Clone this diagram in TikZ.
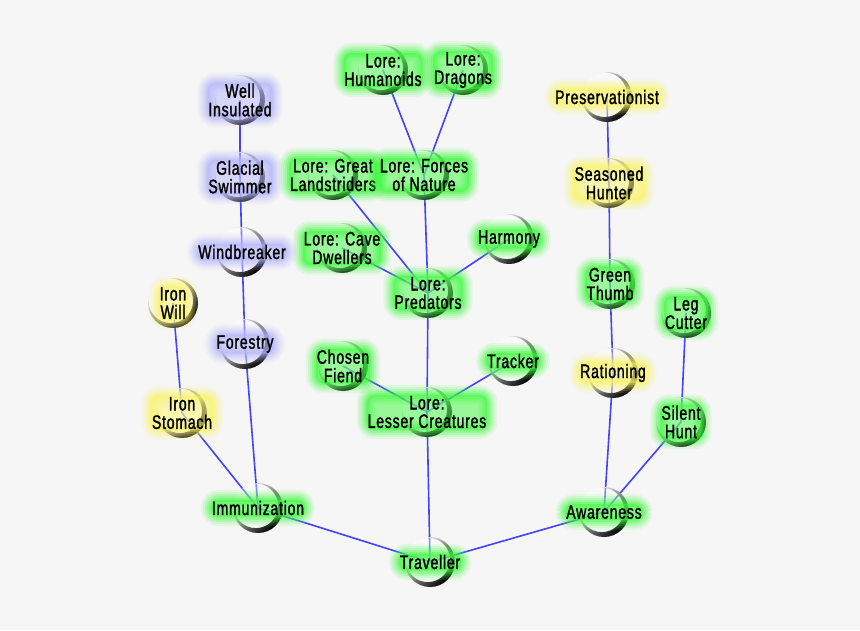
\documentclass[tikz,border=0pt]{standalone}
\usepackage{fontspec}
\setmainfont{Liberation Sans}[FakeStretch=0.72,FakeBold=1.4,LetterSpace=4]
\usepackage{tikz}
\usetikzlibrary{backgrounds}
\definecolor{sk@bg}{RGB}{246,246,246}
\definecolor{sk@edge}{RGB}{66,66,255}
\definecolor{sk@green}{RGB}{60,250,60}
\definecolor{sk@yellow}{RGB}{250,244,100}
\definecolor{sk@blue}{RGB}{180,180,250}

\begin{document}
\begin{tikzpicture}[
  x=1pt,y=1pt,
  ring/.style={circle,minimum size=50pt,inner sep=0pt,fill=white,fill opacity=.35,
    path picture={\shade[even odd rule,fill opacity=1,top color=white,middle color=black!80,
      bottom color=black,shading angle=45]
      (path picture bounding box.center) circle[radius=25pt]
      ([xshift=-2.2pt,yshift=2.2pt]path picture bounding box.center) circle[radius=22.3pt];}},
  skill/.style={font=\fontsize{19.5}{18.5}\selectfont,align=center,inner sep=1pt,
    rounded corners=8pt,text=black,text opacity=1,
    preaction={draw=#1,line width=20pt,draw opacity=.1},
    preaction={draw=#1,line width=16pt,draw opacity=.13},
    preaction={draw=#1,line width=12pt,draw opacity=.17},
    preaction={draw=#1,line width=8pt,draw opacity=.22},
    preaction={draw=#1,line width=4pt,draw opacity=.3},
    preaction={fill=#1,fill opacity=.5}},
  link/.style={sk@edge,line width=1.6pt}
]
\useasboundingbox (0,0) rectangle (860,-630);

% left branch
\node[ring,label={[skill=sk@blue]center:{Well\\Insulated}}] (wellins) at (240,-100) {};
\node[ring,label={[skill=sk@blue]center:{Glacial\\Swimmer}}] (glacial) at (240,-177) {};
\node[ring,label={[skill=sk@blue]center:{Windbreaker}}] (windbr) at (242,-252) {};
\node[ring,label={[skill=sk@blue]center:{Forestry}}] (forestry) at (245,-344) {};
\node[ring,label={[skill=sk@yellow]center:{Iron\\Will}}] (ironwill) at (173,-303) {};
\node[ring,label={[skill=sk@yellow]center:{Iron\\Stomach}}] (ironstom) at (182,-413) {};
\node[ring,label={[skill=sk@green]center:{Immunization}}] (immun) at (258,-508) {};

% middle branch
\node[ring,label={[skill=sk@green]center:{Traveller}}] (trav) at (430,-562) {};
\node[ring,label={[skill=sk@green]center:{Lore:\\Lesser Creatures}}] (lesser) at (427,-412) {};
\node[ring,label={[skill=sk@green]center:{Chosen\\Fiend}}] (chosen) at (343,-366) {};
\node[ring,label={[skill=sk@green]center:{Tracker}}] (tracker) at (513,-361) {};
\node[ring,label={[skill=sk@green]center:{Lore:\\Predators}}] (pred) at (428,-293) {};
\node[ring,label={[skill=sk@green]center:{Lore: Cave\\Dwellers}}] (cave) at (342,-248) {};
\node[ring,label={[skill=sk@green]center:{Harmony}}] (harmony) at (509,-239) {};
\node[ring,label={[skill=sk@green]center:{Lore: Great\\Landstriders}}] (great) at (333,-175) {};
\node[ring,label={[skill=sk@green]center:{Lore: Forces\\of Nature}}] (forces) at (424,-175) {};
\node[ring,label={[skill=sk@green]center:{Lore:\\Humanoids}}] (human) at (383,-70) {};
\node[ring,label={[skill=sk@green]center:{Lore:\\Dragons}}] (dragons) at (463,-70) {};

% right branch
\node[ring,label={[skill=sk@green]center:{Awareness}}] (aware) at (604,-512) {};
\node[ring,label={[skill=sk@yellow]center:{Rationing}}] (ration) at (613,-373) {};
\node[ring,label={[skill=sk@green]center:{Green\\Thumb}}] (gthumb) at (610,-284) {};
\node[ring,label={[skill=sk@yellow]center:{Seasoned\\Hunter}}] (seasoned) at (609,-183) {};
\node[ring,label={[skill=sk@yellow]center:{Preservationist}}] (preserv) at (607,-97) {};
\node[ring,label={[skill=sk@green]center:{Silent\\Hunt}}] (silent) at (681,-422) {};
\node[ring,label={[skill=sk@green]center:{Leg\\Cutter}}] (legcut) at (686,-313) {};

\begin{scope}[on background layer]
\fill[sk@bg] (0,0) rectangle (860,-630);
\draw[link] (trav.center) -- (immun.center);
\draw[link] (trav.center) -- (aware.center);
\draw[link] (trav.center) -- (lesser.center);
\draw[link] (immun.center) -- (ironstom.center);
\draw[link] (ironstom.center) -- (ironwill.center);
\draw[link] (immun.center) -- (forestry.center);
\draw[link] (forestry.center) -- (windbr.center);
\draw[link] (windbr.center) -- (glacial.center);
\draw[link] (glacial.center) -- (wellins.center);
\draw[link] (lesser.center) -- (chosen.center);
\draw[link] (lesser.center) -- (tracker.center);
\draw[link] (lesser.center) -- (pred.center);
\draw[link] (pred.center) -- (cave.center);
\draw[link] (pred.center) -- (harmony.center);
\draw[link] (pred.center) -- (great.center);
\draw[link] (pred.center) -- (forces.center);
\draw[link] (forces.center) -- (human.center);
\draw[link] (forces.center) -- (dragons.center);
\draw[link] (aware.center) -- (ration.center);
\draw[link] (ration.center) -- (gthumb.center);
\draw[link] (gthumb.center) -- (seasoned.center);
\draw[link] (seasoned.center) -- (preserv.center);
\draw[link] (aware.center) -- (silent.center);
\draw[link] (silent.center) -- (legcut.center);
\end{scope}
\end{tikzpicture}
\end{document}
